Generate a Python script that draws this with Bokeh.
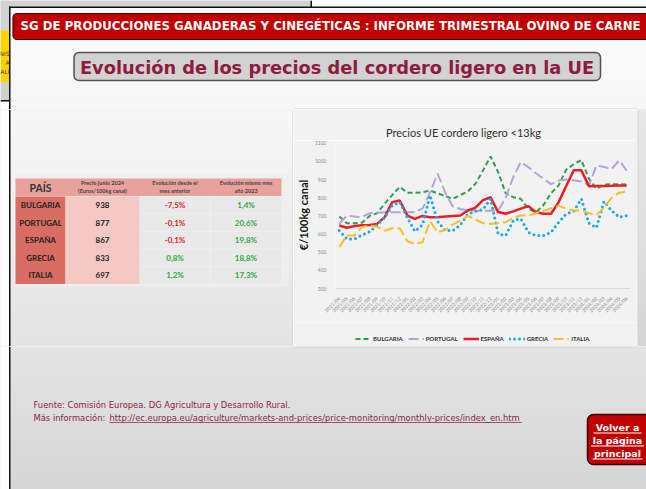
import math
from bokeh.plotting import figure
from bokeh.layouts import column, row
from bokeh.models import (BoxAnnotation, Label, Legend, LegendItem, FixedTicker,
                          ColumnDataSource, FactorRange, Range1d)
from bokeh.embed import file_html
from bokeh.resources import INLINE

# ---------------- data ----------------
meses = ["2021/04", "2021/05", "2021/06", "2021/07", "2021/08", "2021/09", "2021/10", "2021/11", "2021/12",
         "2022/01", "2022/02", "2022/03", "2022/04", "2022/05", "2022/06", "2022/07", "2022/08", "2022/09",
         "2022/10", "2022/11", "2022/12", "2023/01", "2023/02", "2023/03", "2023/04", "2023/05", "2023/06",
         "2023/07", "2023/08", "2023/09", "2023/10", "2023/11", "2023/12", "2024/01", "2024/02", "2024/03",
         "2024/04", "2024/05", "2024/06"]
bulgaria = [697, 660, 660, 662, 700, 715, 767, 815, 860, 828, 828, 830, 840, 824, 810, 794, 815, 835, 877, 950,
            1028, 941, 825, 803, 794, 739, 720, 760, 825, 868, 955, 985, 1008, 905, 850, 872, 875, 875, 873]
portugal = [656, 702, 697, 693, 715, 718, 720, 720, 720, 720, 722, 740, 830, 933, 830, 752, 738, 730, 728, 728,
            730, 728, 800, 914, 997, 969, 935, 905, 875, 895, 900, 896, 890, 868, 978, 970, 958, 1006, 950]
espana = [647, 635, 644, 648, 650, 656, 693, 776, 785, 702, 684, 700, 693, 693, 697, 700, 702, 730, 745, 787,
          803, 721, 712, 725, 740, 754, 720, 712, 712, 776, 865, 951, 951, 864, 865, 865, 866, 868, 867]
grecia = [619, 573, 573, 595, 612, 650, 690, 757, 776, 690, 615, 650, 813, 670, 619, 619, 650, 710, 725, 735,
          794, 601, 592, 675, 684, 610, 592, 592, 610, 665, 711, 727, 794, 660, 635, 780, 730, 693, 702]
italia = [527, 592, 592, 638, 647, 640, 619, 632, 632, 560, 546, 555, 670, 610, 622, 652, 675, 700, 680, 660,
          656, 660, 665, 690, 702, 702, 715, 728, 742, 755, 740, 730, 730, 715, 705, 745, 800, 828, 835]
y_ticks = [300, 400, 500, 600, 700, 800, 900, 1000, 1100]
series_names = ["BULGARIA", "PORTUGAL", "ESPAÑA", "GRECIA", "ITALIA"]

tabla_paises = ["BULGARIA", "PORTUGAL", "ESPAÑA", "GRECIA", "ITALIA"]
tabla_precio = ["938", "877", "867", "833", "697"]
tabla_evol_mes = ["-7,5%", "-0,1%", "-0,1%", "0,8%", "1,2%"]
tabla_evol_anio = ["1,4%", "20,6%", "19,8%", "18,8%", "17,3%"]

# line styles
styles = [dict(line_color="#2f9e50", line_width=2, line_dash="5 3"),
          dict(line_color="#b6a2dc", line_width=2, line_dash="10 4"),
          dict(line_color="#ee1c24", line_width=2.5),
          dict(line_color="#1aa9e6", line_width=3, line_dash="0 5", line_cap="round"),
          dict(line_color="#f6bf2c", line_width=2, line_dash="10 4")]

# ---------------- helpers (page pixel coordinates) ----------------
PW, PH = 646, 489


def deco(x0, y0, w, h, bg="#e6e6e6"):
    f = figure(width=w, height=h, x_range=Range1d(x0, x0 + w), y_range=Range1d(-(y0 + h), -y0),
               output_backend="svg", toolbar_location=None, min_border=0, title=None,
               x_axis_location=None, y_axis_location=None)
    f.frame_align = False
    f.grid.visible = False
    f.outline_line_color = None
    f.border_fill_color = bg
    f.background_fill_color = bg
    return f


def rect(f, x0, y0, x1, y1, fill, line=None, lw=1, radius=0):
    f.add_layout(BoxAnnotation(left=x0, right=x1, top=-y0, bottom=-y1,
                               fill_color=fill if fill else "white", fill_alpha=1.0 if fill else 0.0,
                               line_color=line if line else "black", line_alpha=1.0 if line else 0.0,
                               line_width=lw, border_radius=radius, level="underlay"))


def txt(f, x, y, s, size, color, font="DejaVu Sans", style="normal", align="left", baseline="middle"):
    f.add_layout(Label(x=x, y=-y, text=s, text_font_size=f"{size}px", text_color=color,
                       text_font=font, text_font_style=style, text_align=align, text_baseline=baseline))


def shade(y):
    if y < 60:
        return 250
    if y < 250:
        return 250 - (y - 60) * 14 / 190
    return 236 - (y - 250) * 22 / 239


def bands(f, x0, x1, y0, y1, dark=0):
    y = y0
    while y < y1:
        yy = min(y + 8, y1)
        g = int(round(shade((y + yy) / 2) - dark))
        rect(f, x0, y, x1, yy + 0.6, "#%02x%02x%02x" % (g, g, g))
        y = yy


FOOT = "#8b2346"
BORDER = "#111111"
CHART_EDGE = "#d4d4d4"
CHART_BG = "#f2f2f2"

# ---------------- top part (y 0-109) ----------------
T = deco(0, 0, PW, 109)
rect(T, 0, 0, 311, 7, "#d3d3d3")
rect(T, 311, 0, PW, 7, "#ffffff")
rect(T, 310, 0, 311.5, 13, BORDER)
rect(T, 0, 0, 8.5, 30, "#d3d3d3")
rect(T, 0, 30, 8.5, 82, "#ffd200")
rect(T, 0, 82, 8.5, 100, "#cfcfcf")
rect(T, 0, 100, 8.5, 109, "#ffffff")
rect(T, 0, 99.5, 8.5, 101, BORDER)
bands(T, 10, PW, 7.5, 109)
rect(T, 8.5, 6, PW, 7.5, BORDER)
rect(T, 8.5, 6, 10, 109, BORDER)
txt(T, 9, 53, "NIS", 6, "#4a3e00", align="right")
txt(T, 9, 62, "A", 6, "#4a3e00", align="right")
txt(T, 9, 71, "ALI", 6, "#4a3e00", align="right")
rect(T, 12.5, 13, 652, 39, "#c00000", "#4a0000", 1.2, 4)
txt(T, 330, 25.5, "SG DE PRODUCCIONES GANADERAS Y CINEGÉTICAS : INFORME TRIMESTRAL OVINO DE CARNE",
    11.8, "white", style="bold", align="center")
rect(T, 73.5, 52, 600, 80, "#d2d2d2", "#505050", 1.5, 5)
txt(T, 336.5, 66.5, "Evolución de los precios del cordero ligero en la UE", 17.8, "#8e1b40",
    style="bold", align="center")
rect(T, 293, 108, 637, 109, CHART_EDGE)

# ---------------- left part (x 0-293, y 109-346) ----------------
L = deco(0, 109, 293, 237)
rect(L, 0, 109, 8.5, 346, "#ffffff")
bands(L, 10, 293, 109, 346)
rect(L, 8.5, 109, 10, 346, BORDER)
rect(L, 292, 109, 293, 346, CHART_EDGE)
rect(L, 15, 174, 288, 286, "#efefef")
cols = [15, 65, 139, 210, 281]
rows = [196, 213.5, 231, 248.5, 266, 283.5]
rect(L, cols[0], 178, cols[4], 195.5, "#e9a19b")
rect(L, cols[0], rows[0], cols[1], rows[-1], "#da6d63")
rect(L, cols[1], rows[0], cols[2], rows[-1], "#f4c9c5")
for c in range(2, 4):
    for r in range(5):
        rect(L, cols[c] + 0.5, rows[r] + 0.5, cols[c + 1] - 0.5, rows[r + 1] - 0.5, "#e9e9e9")
cx = [(cols[i] + cols[i + 1]) / 2 for i in range(4)]
txt(L, cx[0], 187.5, "PAÍS", 10.5, "#333333", font="Lato", style="bold", align="center")
hdr = "#444444"
txt(L, cx[1], 182.5, "Precio junio 2024", 5.5, hdr, font="Lato", style="bold", align="center")
txt(L, cx[1], 190.5, "(Euros/100kg canal)", 5.5, hdr, font="Lato", style="bold", align="center")
txt(L, cx[2], 182.5, "Evolución desde el", 5.5, hdr, font="Lato", style="bold", align="center")
txt(L, cx[2], 190.5, "mes anterior", 5.5, hdr, font="Lato", style="bold", align="center")
txt(L, cx[3], 182.5, "Evolución mismo mes", 5.5, hdr, font="Lato", style="bold", align="center")
txt(L, cx[3], 190.5, "año 2023", 5.5, hdr, font="Lato", style="bold", align="center")
for r in range(5):
    yc = (rows[r] + rows[r + 1]) / 2
    txt(L, cx[0], yc, tabla_paises[r], 8, "#222222", font="Lato", style="bold", align="center")
    txt(L, cx[1], yc, tabla_precio[r], 8, "#222222", font="Lato", style="bold", align="center")
    c1 = "#e8202a" if tabla_evol_mes[r].startswith("-") else "#2ea84a"
    c2 = "#e8202a" if tabla_evol_anio[r].startswith("-") else "#2ea84a"
    txt(L, cx[2], yc, tabla_evol_mes[r], 8, c1, font="Lato", style="bold", align="center")
    txt(L, cx[3], yc, tabla_evol_anio[r], 8, c2, font="Lato", style="bold", align="center")

# ---------------- right strip (x 637-646, y 109-346) ----------------
R = deco(637, 109, 9, 237)
bands(R, 637, PW, 109, 346, dark=14)
rect(R, 637, 109, 638, 346, CHART_EDGE)

# ---------------- bottom part (y 346-489) ----------------
B = deco(0, 346, PW, 143)
rect(B, 0, 346, 8.5, PH, "#ffffff")
bands(B, 10, PW, 346, PH)
rect(B, 8.5, 346, 10, PH, BORDER)
rect(B, 293, 346, 637, 347, CHART_EDGE)
txt(B, 33, 404, "Fuente: Comisión Europea. DG Agricultura y Desarrollo Rural.", 8.4, FOOT)
txt(B, 33, 417, "Más información:", 8.4, FOOT)
txt(B, 109, 417,
    "http://ec.europa.eu/agriculture/markets-and-prices/price-monitoring/monthly-prices/index_en.htm",
    8.4, FOOT)
rect(B, 109, 421.5, 521, 422.3, FOOT)
rect(B, 587, 414, 660, 464, "#c00000", "#3a0000", 1.5, 6)
for yy, s, w in [(426.5, "Volver a", 48), (439.5, "la página", 53), (452.5, "principal", 50)]:
    txt(B, 617, yy, s, 9.5, "white", style="bold", align="center")
    rect(B, 617 - w / 2, yy + 5.5, 617 + w / 2, yy + 6.5, "white")

# ---------------- chart title strip (x 293-637, y 109-140) ----------------
CT = deco(293, 109, 344, 31, bg=CHART_BG)
txt(CT, 463, 131.5, "Precios UE cordero ligero <13kg", 11, "#303030", font="Lato", align="center")

# ---------------- chart (x 293-637, y 140-322) ----------------
CX0, CY0, CW, CH = 293, 140, 344, 182
FL, FR, FT, FB = 327, 630, 141, 288
C = figure(width=CW, height=CH, x_range=FactorRange(*meses, range_padding=0), y_range=(300, 1110),
           output_backend="svg", toolbar_location=None, title=None,
           min_border_left=FL - CX0, min_border_right=CX0 + CW - FR,
           min_border_top=FT - CY0, min_border_bottom=CY0 + CH - FB)
C.frame_align = False
C.outline_line_color = None
C.border_fill_color = CHART_BG
C.background_fill_color = CHART_BG
C.grid.visible = False

src = ColumnDataSource(dict(mes=meses, bulgaria=bulgaria, portugal=portugal, espana=espana,
                            grecia=grecia, italia=italia))
for col, st in zip(["bulgaria", "portugal", "espana", "grecia", "italia"], styles):
    C.line("mes", col, source=src, **st)

C.xaxis.major_label_orientation = math.pi / 4
C.xaxis.major_label_text_font_size = "5px"
C.xaxis.major_label_text_color = "#8a8a8a"
C.xaxis.major_label_text_font = "Lato"
C.xaxis.axis_line_color = "#d9d9d9"
C.xaxis.major_tick_line_color = None
C.xaxis.minor_tick_line_color = None
C.xaxis.major_label_standoff = 3

C.yaxis.ticker = FixedTicker(ticks=y_ticks)
C.yaxis.major_label_text_font_size = "5px"
C.yaxis.major_label_text_color = "#8a8a8a"
C.yaxis.major_label_text_font = "Lato"
C.yaxis.axis_line_color = None
C.yaxis.major_tick_line_color = None
C.yaxis.minor_tick_line_color = None
C.yaxis.major_label_standoff = 3
C.yaxis.axis_label = "€/100kg canal"
C.yaxis.axis_label_text_font = "Lato"
C.yaxis.axis_label_text_font_style = "bold"
C.yaxis.axis_label_text_font_size = "11px"
C.yaxis.axis_label_text_color = "#111111"
C.yaxis.axis_label_standoff = 2

# ---------------- legend strip (x 293-637, y 322-346) ----------------
LG = deco(293, 322, 344, 24, bg=CHART_BG)
items = []
for name, st in zip(series_names, styles):
    rr = LG.line(x=[float("nan")], y=[float("nan")], **st)
    items.append(LegendItem(label=name, renderers=[rr]))
legend = Legend(items=items, orientation="horizontal", location=(62, 4),
                background_fill_alpha=0, border_line_color=None,
                label_text_font="Lato", label_text_font_style="bold",
                label_text_font_size="6px", label_text_color="#333333",
                glyph_width=16, glyph_height=7, label_standoff=2, spacing=5,
                padding=0, margin=0, label_height=7)
LG.add_layout(legend)

layout = column(T, row(L, column(CT, C, LG), R), B)
open("out.html", "w").write(file_html(layout, INLINE))
